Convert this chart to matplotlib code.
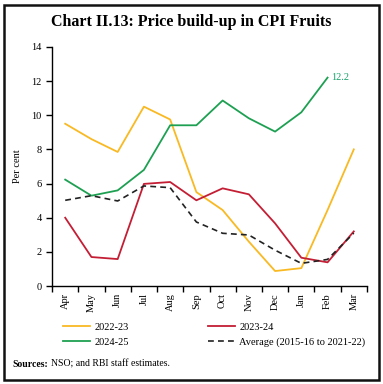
import matplotlib.pyplot as plt
from matplotlib.patches import Rectangle
from matplotlib.lines import Line2D

months = ['Apr', 'May', 'Jun', 'Jul', 'Aug', 'Sep', 'Oct', 'Nov', 'Dec', 'Jan', 'Feb', 'Mar']
y2022 = [9.5, 8.6, 7.85, 10.5, 9.75, 5.5, 4.45, 2.6, 0.88, 1.05, 4.45, 8.0]
y2023 = [4.0, 1.7, 1.58, 5.98, 6.09, 5.02, 5.72, 5.37, 3.67, 1.66, 1.39, 3.2]
y2024 = [6.23, 5.29, 5.6, 6.8, 9.41, 9.41, 10.86, 9.82, 9.04, 10.17, 12.2]
avg = [5.02, 5.29, 4.98, 5.86, 5.76, 3.75, 3.09, 2.99, 2.1, 1.33, 1.56, 3.1]

plt.rcParams['font.family'] = ['Liberation Serif', 'DejaVu Serif']

c_yel = '#F9B923'
c_red = '#C41E35'
c_grn = '#1EA052'

fig = plt.figure(figsize=(3.83, 3.84), dpi=100)
ax = fig.add_axes([0.136, 0.255, 0.822, 0.623])

x = range(len(months))
ax.plot(x, y2022, color=c_yel, lw=1.3)
ax.plot(x, y2023, color=c_red, lw=1.3)
ax.plot(range(len(y2024)), y2024, color=c_grn, lw=1.3)
ax.plot(x, avg, color='#222222', lw=1.2, ls=(0, (3.5, 2.5)))
ax.text(len(y2024) - 1 + 0.15, y2024[-1], f'{y2024[-1]:.1f}', color='#15A06A',
        fontsize=7.5, va='center', ha='left')

ax.set_xlim(-0.5, 11.5)
ax.set_ylim(0, 14)
ax.set_yticks(range(0, 15, 2))
ax.set_xticks(x)
ax.set_xticklabels(months, rotation=90, fontsize=7.5)
ax.set_xticks([i - 0.5 for i in range(13)], minor=True)
ax.tick_params(axis='x', which='major', length=0, pad=5)
ax.tick_params(axis='x', which='minor', length=4, width=1)
ax.tick_params(axis='y', labelsize=7.5, length=4, width=1)
for s in ['top', 'right']:
    ax.spines[s].set_visible(False)
for s in ['left', 'bottom']:
    ax.spines[s].set_linewidth(1)
ax.set_ylabel('Per cent', fontsize=7.5, labelpad=7)

handles = [Line2D([], [], color=c_yel, lw=1.3),
           Line2D([], [], color=c_grn, lw=1.3),
           Line2D([], [], color=c_red, lw=1.3),
           Line2D([], [], color='#222222', lw=1.2, ls=(0, (3.5, 2.5)))]
labels = ['2022-23', '2024-25', '2023-24', 'Average (2015-16 to 2021-22)']
fig.legend(handles, labels, ncol=2, loc='center left', bbox_to_anchor=(0.14, 0.128),
           frameon=False, fontsize=7.5, handlelength=2.6, handletextpad=0.4,
           columnspacing=7.6, labelspacing=0.55)

fig.text(0.5, 0.943, 'Chart II.13: Price build-up in CPI Fruits', ha='center', va='center',
         fontsize=11.5, fontweight='bold')

# bold "Sources:" followed by normal text
src = fig.text(0.033, 0.052, 'Sources:', fontsize=7, fontweight='bold', va='center', ha='left')
fig.canvas.draw()
bb = src.get_window_extent().transformed(fig.transFigure.inverted())
fig.text(bb.x1 + 0.006, 0.052, 'NSO; and RBI staff estimates.', fontsize=7, va='center', ha='left')

fig.patches.append(Rectangle((0.011, 0.01), 0.978, 0.978, transform=fig.transFigure,
                             fill=False, lw=1.8, edgecolor='#111111'))

fig.savefig('out.png', dpi=100)
